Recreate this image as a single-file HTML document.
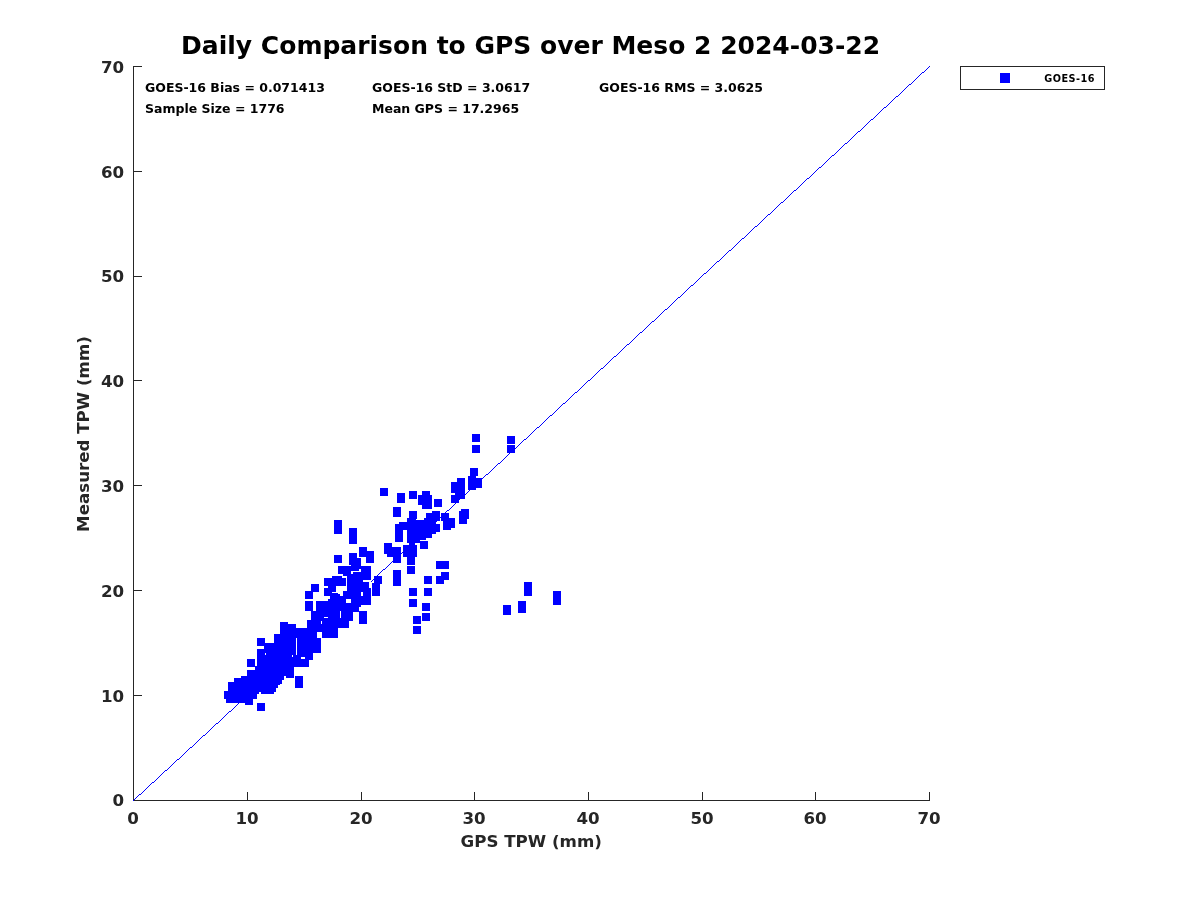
<!DOCTYPE html>
<html><head><meta charset="utf-8"><title>Daily Comparison to GPS</title>
<style>
html,body{margin:0;padding:0;background:#fff;}
body{width:1200px;height:900px;overflow:hidden;position:relative;}
svg{position:absolute;left:0;top:0;display:block;}
text{font-family:"DejaVu Sans","Liberation Sans",sans-serif;font-weight:bold;}
.tk{font-size:16.67px;fill:#262626;}
.st{font-size:12.5px;fill:#000;}
</style></head><body>
<svg width="1200" height="900" viewBox="0 0 1200 900">
<rect width="1200" height="900" fill="#fff"/>
<!--TITLE-->
<text id="title" x="530.6" y="53.7" text-anchor="middle" font-size="25px" fill="#000">Daily Comparison to GPS over Meso 2 2024-03-22</text>
<!--AXES-->
<g stroke="#262626" stroke-width="1" fill="none" shape-rendering="crispEdges">
<path d="M133.5 66V800.5H930"/>
<path d="M133 66.5h9M133 171.5h9M133 276.5h9M133 380.5h9M133 485.5h9M133 590.5h9M133 695.5h9"/>
<path d="M247.5 800v-8M361.5 800v-8M474.5 800v-8M588.5 800v-8M702.5 800v-8M815.5 800v-8M929.5 800v-8"/>
</g>
<!--LINE-->
<path id="diag" fill="#0000ff" shape-rendering="crispEdges" d="M133 800h1v1h-1zm1 -1h1v1h-1zm1 -1h1v1h-1zm1 -1h1v1h-1zm1 -1h1v1h-1zm1 -1h1v1h-1zm1 -1h2v1h-2zm2 -1h1v1h-1zm1 -1h1v1h-1zm1 -1h1v1h-1zm1 -1h1v1h-1zm1 -1h1v1h-1zm1 -1h1v1h-1zm1 -1h1v1h-1zm1 -1h1v1h-1zm1 -1h1v1h-1zm1 -1h1v1h-1zm1 -1h1v1h-1zm1 -1h2v1h-2zm2 -1h1v1h-1zm1 -1h1v1h-1zm1 -1h1v1h-1zm1 -1h1v1h-1zm1 -1h1v1h-1zm1 -1h1v1h-1zm1 -1h1v1h-1zm1 -1h1v1h-1zm1 -1h1v1h-1zm1 -1h1v1h-1zm1 -1h1v1h-1zm1 -1h2v1h-2zm2 -1h1v1h-1zm1 -1h1v1h-1zm1 -1h1v1h-1zm1 -1h1v1h-1zm1 -1h1v1h-1zm1 -1h1v1h-1zm1 -1h1v1h-1zm1 -1h1v1h-1zm1 -1h1v1h-1zm1 -1h1v1h-1zm1 -1h2v1h-2zm2 -1h1v1h-1zm1 -1h1v1h-1zm1 -1h1v1h-1zm1 -1h1v1h-1zm1 -1h1v1h-1zm1 -1h1v1h-1zm1 -1h1v1h-1zm1 -1h1v1h-1zm1 -1h1v1h-1zm1 -1h1v1h-1zm1 -1h1v1h-1zm1 -1h2v1h-2zm2 -1h1v1h-1zm1 -1h1v1h-1zm1 -1h1v1h-1zm1 -1h1v1h-1zm1 -1h1v1h-1zm1 -1h1v1h-1zm1 -1h1v1h-1zm1 -1h1v1h-1zm1 -1h1v1h-1zm1 -1h1v1h-1zm1 -1h1v1h-1zm1 -1h2v1h-2zm2 -1h1v1h-1zm1 -1h1v1h-1zm1 -1h1v1h-1zm1 -1h1v1h-1zm1 -1h1v1h-1zm1 -1h1v1h-1zm1 -1h1v1h-1zm1 -1h1v1h-1zm1 -1h1v1h-1zm1 -1h1v1h-1zm1 -1h1v1h-1zm1 -1h2v1h-2zm2 -1h1v1h-1zm1 -1h1v1h-1zm1 -1h1v1h-1zm1 -1h1v1h-1zm1 -1h1v1h-1zm1 -1h1v1h-1zm1 -1h1v1h-1zm1 -1h1v1h-1zm1 -1h1v1h-1zm1 -1h1v1h-1zm1 -1h1v1h-1zm1 -1h2v1h-2zm2 -1h1v1h-1zm1 -1h1v1h-1zm1 -1h1v1h-1zm1 -1h1v1h-1zm1 -1h1v1h-1zm1 -1h1v1h-1zm1 -1h1v1h-1zm1 -1h1v1h-1zm1 -1h1v1h-1zm1 -1h1v1h-1zm1 -1h1v1h-1zm1 -1h2v1h-2zm2 -1h1v1h-1zm1 -1h1v1h-1zm1 -1h1v1h-1zm1 -1h1v1h-1zm1 -1h1v1h-1zm1 -1h1v1h-1zm1 -1h1v1h-1zm1 -1h1v1h-1zm1 -1h1v1h-1zm1 -1h1v1h-1zm1 -1h2v1h-2zm2 -1h1v1h-1zm1 -1h1v1h-1zm1 -1h1v1h-1zm1 -1h1v1h-1zm1 -1h1v1h-1zm1 -1h1v1h-1zm1 -1h1v1h-1zm1 -1h1v1h-1zm1 -1h1v1h-1zm1 -1h1v1h-1zm1 -1h1v1h-1zm1 -1h2v1h-2zm2 -1h1v1h-1zm1 -1h1v1h-1zm1 -1h1v1h-1zm1 -1h1v1h-1zm1 -1h1v1h-1zm1 -1h1v1h-1zm1 -1h1v1h-1zm1 -1h1v1h-1zm1 -1h1v1h-1zm1 -1h1v1h-1zm1 -1h1v1h-1zm1 -1h2v1h-2zm2 -1h1v1h-1zm1 -1h1v1h-1zm1 -1h1v1h-1zm1 -1h1v1h-1zm1 -1h1v1h-1zm1 -1h1v1h-1zm1 -1h1v1h-1zm1 -1h1v1h-1zm1 -1h1v1h-1zm1 -1h1v1h-1zm1 -1h1v1h-1zm1 -1h2v1h-2zm2 -1h1v1h-1zm1 -1h1v1h-1zm1 -1h1v1h-1zm1 -1h1v1h-1zm1 -1h1v1h-1zm1 -1h1v1h-1zm1 -1h1v1h-1zm1 -1h1v1h-1zm1 -1h1v1h-1zm1 -1h1v1h-1zm1 -1h1v1h-1zm1 -1h2v1h-2zm2 -1h1v1h-1zm1 -1h1v1h-1zm1 -1h1v1h-1zm1 -1h1v1h-1zm1 -1h1v1h-1zm1 -1h1v1h-1zm1 -1h1v1h-1zm1 -1h1v1h-1zm1 -1h1v1h-1zm1 -1h1v1h-1zm1 -1h1v1h-1zm1 -1h2v1h-2zm2 -1h1v1h-1zm1 -1h1v1h-1zm1 -1h1v1h-1zm1 -1h1v1h-1zm1 -1h1v1h-1zm1 -1h1v1h-1zm1 -1h1v1h-1zm1 -1h1v1h-1zm1 -1h1v1h-1zm1 -1h1v1h-1zm1 -1h1v1h-1zm1 -1h2v1h-2zm2 -1h1v1h-1zm1 -1h1v1h-1zm1 -1h1v1h-1zm1 -1h1v1h-1zm1 -1h1v1h-1zm1 -1h1v1h-1zm1 -1h1v1h-1zm1 -1h1v1h-1zm1 -1h1v1h-1zm1 -1h1v1h-1zm1 -1h2v1h-2zm2 -1h1v1h-1zm1 -1h1v1h-1zm1 -1h1v1h-1zm1 -1h1v1h-1zm1 -1h1v1h-1zm1 -1h1v1h-1zm1 -1h1v1h-1zm1 -1h1v1h-1zm1 -1h1v1h-1zm1 -1h1v1h-1zm1 -1h1v1h-1zm1 -1h2v1h-2zm2 -1h1v1h-1zm1 -1h1v1h-1zm1 -1h1v1h-1zm1 -1h1v1h-1zm1 -1h1v1h-1zm1 -1h1v1h-1zm1 -1h1v1h-1zm1 -1h1v1h-1zm1 -1h1v1h-1zm1 -1h1v1h-1zm1 -1h1v1h-1zm1 -1h2v1h-2zm2 -1h1v1h-1zm1 -1h1v1h-1zm1 -1h1v1h-1zm1 -1h1v1h-1zm1 -1h1v1h-1zm1 -1h1v1h-1zm1 -1h1v1h-1zm1 -1h1v1h-1zm1 -1h1v1h-1zm1 -1h1v1h-1zm1 -1h1v1h-1zm1 -1h2v1h-2zm2 -1h1v1h-1zm1 -1h1v1h-1zm1 -1h1v1h-1zm1 -1h1v1h-1zm1 -1h1v1h-1zm1 -1h1v1h-1zm1 -1h1v1h-1zm1 -1h1v1h-1zm1 -1h1v1h-1zm1 -1h1v1h-1zm1 -1h1v1h-1zm1 -1h2v1h-2zm2 -1h1v1h-1zm1 -1h1v1h-1zm1 -1h1v1h-1zm1 -1h1v1h-1zm1 -1h1v1h-1zm1 -1h1v1h-1zm1 -1h1v1h-1zm1 -1h1v1h-1zm1 -1h1v1h-1zm1 -1h1v1h-1zm1 -1h1v1h-1zm1 -1h2v1h-2zm2 -1h1v1h-1zm1 -1h1v1h-1zm1 -1h1v1h-1zm1 -1h1v1h-1zm1 -1h1v1h-1zm1 -1h1v1h-1zm1 -1h1v1h-1zm1 -1h1v1h-1zm1 -1h1v1h-1zm1 -1h1v1h-1zm1 -1h2v1h-2zm2 -1h1v1h-1zm1 -1h1v1h-1zm1 -1h1v1h-1zm1 -1h1v1h-1zm1 -1h1v1h-1zm1 -1h1v1h-1zm1 -1h1v1h-1zm1 -1h1v1h-1zm1 -1h1v1h-1zm1 -1h1v1h-1zm1 -1h1v1h-1zm1 -1h2v1h-2zm2 -1h1v1h-1zm1 -1h1v1h-1zm1 -1h1v1h-1zm1 -1h1v1h-1zm1 -1h1v1h-1zm1 -1h1v1h-1zm1 -1h1v1h-1zm1 -1h1v1h-1zm1 -1h1v1h-1zm1 -1h1v1h-1zm1 -1h1v1h-1zm1 -1h2v1h-2zm2 -1h1v1h-1zm1 -1h1v1h-1zm1 -1h1v1h-1zm1 -1h1v1h-1zm1 -1h1v1h-1zm1 -1h1v1h-1zm1 -1h1v1h-1zm1 -1h1v1h-1zm1 -1h1v1h-1zm1 -1h1v1h-1zm1 -1h1v1h-1zm1 -1h2v1h-2zm2 -1h1v1h-1zm1 -1h1v1h-1zm1 -1h1v1h-1zm1 -1h1v1h-1zm1 -1h1v1h-1zm1 -1h1v1h-1zm1 -1h1v1h-1zm1 -1h1v1h-1zm1 -1h1v1h-1zm1 -1h1v1h-1zm1 -1h1v1h-1zm1 -1h2v1h-2zm2 -1h1v1h-1zm1 -1h1v1h-1zm1 -1h1v1h-1zm1 -1h1v1h-1zm1 -1h1v1h-1zm1 -1h1v1h-1zm1 -1h1v1h-1zm1 -1h1v1h-1zm1 -1h1v1h-1zm1 -1h1v1h-1zm1 -1h1v1h-1zm1 -1h2v1h-2zm2 -1h1v1h-1zm1 -1h1v1h-1zm1 -1h1v1h-1zm1 -1h1v1h-1zm1 -1h1v1h-1zm1 -1h1v1h-1zm1 -1h1v1h-1zm1 -1h1v1h-1zm1 -1h1v1h-1zm1 -1h1v1h-1zm1 -1h2v1h-2zm2 -1h1v1h-1zm1 -1h1v1h-1zm1 -1h1v1h-1zm1 -1h1v1h-1zm1 -1h1v1h-1zm1 -1h1v1h-1zm1 -1h1v1h-1zm1 -1h1v1h-1zm1 -1h1v1h-1zm1 -1h1v1h-1zm1 -1h1v1h-1zm1 -1h2v1h-2zm2 -1h1v1h-1zm1 -1h1v1h-1zm1 -1h1v1h-1zm1 -1h1v1h-1zm1 -1h1v1h-1zm1 -1h1v1h-1zm1 -1h1v1h-1zm1 -1h1v1h-1zm1 -1h1v1h-1zm1 -1h1v1h-1zm1 -1h1v1h-1zm1 -1h2v1h-2zm2 -1h1v1h-1zm1 -1h1v1h-1zm1 -1h1v1h-1zm1 -1h1v1h-1zm1 -1h1v1h-1zm1 -1h1v1h-1zm1 -1h1v1h-1zm1 -1h1v1h-1zm1 -1h1v1h-1zm1 -1h1v1h-1zm1 -1h1v1h-1zm1 -1h2v1h-2zm2 -1h1v1h-1zm1 -1h1v1h-1zm1 -1h1v1h-1zm1 -1h1v1h-1zm1 -1h1v1h-1zm1 -1h1v1h-1zm1 -1h1v1h-1zm1 -1h1v1h-1zm1 -1h1v1h-1zm1 -1h1v1h-1zm1 -1h1v1h-1zm1 -1h2v1h-2zm2 -1h1v1h-1zm1 -1h1v1h-1zm1 -1h1v1h-1zm1 -1h1v1h-1zm1 -1h1v1h-1zm1 -1h1v1h-1zm1 -1h1v1h-1zm1 -1h1v1h-1zm1 -1h1v1h-1zm1 -1h1v1h-1zm1 -1h1v1h-1zm1 -1h2v1h-2zm2 -1h1v1h-1zm1 -1h1v1h-1zm1 -1h1v1h-1zm1 -1h1v1h-1zm1 -1h1v1h-1zm1 -1h1v1h-1zm1 -1h1v1h-1zm1 -1h1v1h-1zm1 -1h1v1h-1zm1 -1h1v1h-1zm1 -1h2v1h-2zm2 -1h1v1h-1zm1 -1h1v1h-1zm1 -1h1v1h-1zm1 -1h1v1h-1zm1 -1h1v1h-1zm1 -1h1v1h-1zm1 -1h1v1h-1zm1 -1h1v1h-1zm1 -1h1v1h-1zm1 -1h1v1h-1zm1 -1h1v1h-1zm1 -1h2v1h-2zm2 -1h1v1h-1zm1 -1h1v1h-1zm1 -1h1v1h-1zm1 -1h1v1h-1zm1 -1h1v1h-1zm1 -1h1v1h-1zm1 -1h1v1h-1zm1 -1h1v1h-1zm1 -1h1v1h-1zm1 -1h1v1h-1zm1 -1h1v1h-1zm1 -1h2v1h-2zm2 -1h1v1h-1zm1 -1h1v1h-1zm1 -1h1v1h-1zm1 -1h1v1h-1zm1 -1h1v1h-1zm1 -1h1v1h-1zm1 -1h1v1h-1zm1 -1h1v1h-1zm1 -1h1v1h-1zm1 -1h1v1h-1zm1 -1h1v1h-1zm1 -1h2v1h-2zm2 -1h1v1h-1zm1 -1h1v1h-1zm1 -1h1v1h-1zm1 -1h1v1h-1zm1 -1h1v1h-1zm1 -1h1v1h-1zm1 -1h1v1h-1zm1 -1h1v1h-1zm1 -1h1v1h-1zm1 -1h1v1h-1zm1 -1h1v1h-1zm1 -1h2v1h-2zm2 -1h1v1h-1zm1 -1h1v1h-1zm1 -1h1v1h-1zm1 -1h1v1h-1zm1 -1h1v1h-1zm1 -1h1v1h-1zm1 -1h1v1h-1zm1 -1h1v1h-1zm1 -1h1v1h-1zm1 -1h1v1h-1zm1 -1h1v1h-1zm1 -1h2v1h-2zm2 -1h1v1h-1zm1 -1h1v1h-1zm1 -1h1v1h-1zm1 -1h1v1h-1zm1 -1h1v1h-1zm1 -1h1v1h-1zm1 -1h1v1h-1zm1 -1h1v1h-1zm1 -1h1v1h-1zm1 -1h1v1h-1zm1 -1h2v1h-2zm2 -1h1v1h-1zm1 -1h1v1h-1zm1 -1h1v1h-1zm1 -1h1v1h-1zm1 -1h1v1h-1zm1 -1h1v1h-1zm1 -1h1v1h-1zm1 -1h1v1h-1zm1 -1h1v1h-1zm1 -1h1v1h-1zm1 -1h1v1h-1zm1 -1h2v1h-2zm2 -1h1v1h-1zm1 -1h1v1h-1zm1 -1h1v1h-1zm1 -1h1v1h-1zm1 -1h1v1h-1zm1 -1h1v1h-1zm1 -1h1v1h-1zm1 -1h1v1h-1zm1 -1h1v1h-1zm1 -1h1v1h-1zm1 -1h1v1h-1zm1 -1h2v1h-2zm2 -1h1v1h-1zm1 -1h1v1h-1zm1 -1h1v1h-1zm1 -1h1v1h-1zm1 -1h1v1h-1zm1 -1h1v1h-1zm1 -1h1v1h-1zm1 -1h1v1h-1zm1 -1h1v1h-1zm1 -1h1v1h-1zm1 -1h1v1h-1zm1 -1h2v1h-2zm2 -1h1v1h-1zm1 -1h1v1h-1zm1 -1h1v1h-1zm1 -1h1v1h-1zm1 -1h1v1h-1zm1 -1h1v1h-1zm1 -1h1v1h-1zm1 -1h1v1h-1zm1 -1h1v1h-1zm1 -1h1v1h-1zm1 -1h1v1h-1zm1 -1h2v1h-2zm2 -1h1v1h-1zm1 -1h1v1h-1zm1 -1h1v1h-1zm1 -1h1v1h-1zm1 -1h1v1h-1zm1 -1h1v1h-1zm1 -1h1v1h-1zm1 -1h1v1h-1zm1 -1h1v1h-1zm1 -1h1v1h-1zm1 -1h1v1h-1zm1 -1h2v1h-2zm2 -1h1v1h-1zm1 -1h1v1h-1zm1 -1h1v1h-1zm1 -1h1v1h-1zm1 -1h1v1h-1zm1 -1h1v1h-1zm1 -1h1v1h-1zm1 -1h1v1h-1zm1 -1h1v1h-1zm1 -1h1v1h-1zm1 -1h2v1h-2zm2 -1h1v1h-1zm1 -1h1v1h-1zm1 -1h1v1h-1zm1 -1h1v1h-1zm1 -1h1v1h-1zm1 -1h1v1h-1zm1 -1h1v1h-1zm1 -1h1v1h-1zm1 -1h1v1h-1zm1 -1h1v1h-1zm1 -1h1v1h-1zm1 -1h2v1h-2zm2 -1h1v1h-1zm1 -1h1v1h-1zm1 -1h1v1h-1zm1 -1h1v1h-1zm1 -1h1v1h-1zm1 -1h1v1h-1zm1 -1h1v1h-1zm1 -1h1v1h-1zm1 -1h1v1h-1zm1 -1h1v1h-1zm1 -1h1v1h-1zm1 -1h2v1h-2zm2 -1h1v1h-1zm1 -1h1v1h-1zm1 -1h1v1h-1zm1 -1h1v1h-1zm1 -1h1v1h-1zm1 -1h1v1h-1zm1 -1h1v1h-1zm1 -1h1v1h-1zm1 -1h1v1h-1zm1 -1h1v1h-1zm1 -1h1v1h-1zm1 -1h2v1h-2zm2 -1h1v1h-1zm1 -1h1v1h-1zm1 -1h1v1h-1zm1 -1h1v1h-1zm1 -1h1v1h-1zm1 -1h1v1h-1zm1 -1h1v1h-1zm1 -1h1v1h-1zm1 -1h1v1h-1zm1 -1h1v1h-1zm1 -1h1v1h-1zm1 -1h2v1h-2zm2 -1h1v1h-1zm1 -1h1v1h-1zm1 -1h1v1h-1zm1 -1h1v1h-1zm1 -1h1v1h-1zm1 -1h1v1h-1zm1 -1h1v1h-1zm1 -1h1v1h-1zm1 -1h1v1h-1zm1 -1h1v1h-1zm1 -1h1v1h-1zm1 -1h2v1h-2zm2 -1h1v1h-1zm1 -1h1v1h-1zm1 -1h1v1h-1zm1 -1h1v1h-1zm1 -1h1v1h-1zm1 -1h1v1h-1zm1 -1h1v1h-1zm1 -1h1v1h-1zm1 -1h1v1h-1zm1 -1h1v1h-1zm1 -1h1v1h-1zm1 -1h2v1h-2zm2 -1h1v1h-1zm1 -1h1v1h-1zm1 -1h1v1h-1zm1 -1h1v1h-1zm1 -1h1v1h-1zm1 -1h1v1h-1zm1 -1h1v1h-1zm1 -1h1v1h-1zm1 -1h1v1h-1zm1 -1h1v1h-1zm1 -1h2v1h-2zm2 -1h1v1h-1zm1 -1h1v1h-1zm1 -1h1v1h-1zm1 -1h1v1h-1zm1 -1h1v1h-1zm1 -1h1v1h-1zm1 -1h1v1h-1zm1 -1h1v1h-1zm1 -1h1v1h-1zm1 -1h1v1h-1zm1 -1h1v1h-1zm1 -1h2v1h-2zm2 -1h1v1h-1zm1 -1h1v1h-1zm1 -1h1v1h-1zm1 -1h1v1h-1zm1 -1h1v1h-1zm1 -1h1v1h-1zm1 -1h1v1h-1zm1 -1h1v1h-1zm1 -1h1v1h-1zm1 -1h1v1h-1zm1 -1h1v1h-1zm1 -1h2v1h-2zm2 -1h1v1h-1zm1 -1h1v1h-1zm1 -1h1v1h-1zm1 -1h1v1h-1zm1 -1h1v1h-1zm1 -1h1v1h-1zm1 -1h1v1h-1zm1 -1h1v1h-1zm1 -1h1v1h-1zm1 -1h1v1h-1zm1 -1h1v1h-1zm1 -1h2v1h-2zm2 -1h1v1h-1zm1 -1h1v1h-1zm1 -1h1v1h-1zm1 -1h1v1h-1zm1 -1h1v1h-1zm1 -1h1v1h-1zm1 -1h1v1h-1zm1 -1h1v1h-1zm1 -1h1v1h-1zm1 -1h1v1h-1zm1 -1h1v1h-1zm1 -1h2v1h-2zm2 -1h1v1h-1zm1 -1h1v1h-1zm1 -1h1v1h-1zm1 -1h1v1h-1zm1 -1h1v1h-1zm1 -1h1v1h-1zm1 -1h1v1h-1zm1 -1h1v1h-1zm1 -1h1v1h-1zm1 -1h1v1h-1zm1 -1h1v1h-1zm1 -1h2v1h-2zm2 -1h1v1h-1zm1 -1h1v1h-1zm1 -1h1v1h-1zm1 -1h1v1h-1zm1 -1h1v1h-1zm1 -1h1v1h-1zm1 -1h1v1h-1zm1 -1h1v1h-1zm1 -1h1v1h-1zm1 -1h1v1h-1zm1 -1h2v1h-2zm2 -1h1v1h-1zm1 -1h1v1h-1zm1 -1h1v1h-1zm1 -1h1v1h-1zm1 -1h1v1h-1zm1 -1h1v1h-1zm1 -1h1v1h-1zm1 -1h1v1h-1zm1 -1h1v1h-1zm1 -1h1v1h-1zm1 -1h1v1h-1zm1 -1h2v1h-2zm2 -1h1v1h-1zm1 -1h1v1h-1zm1 -1h1v1h-1zm1 -1h1v1h-1zm1 -1h1v1h-1zm1 -1h1v1h-1zm1 -1h1v1h-1zm1 -1h1v1h-1zm1 -1h1v1h-1zm1 -1h1v1h-1zm1 -1h1v1h-1zm1 -1h2v1h-2zm2 -1h1v1h-1zm1 -1h1v1h-1zm1 -1h1v1h-1zm1 -1h1v1h-1zm1 -1h1v1h-1zm1 -1h1v1h-1z"/>
<!--YTICKS-->
<g class="tk" text-anchor="end">
<text x="124.2" y="72.6">70</text><text x="124.2" y="177.6">60</text><text x="124.2" y="281.6">50</text><text x="124.2" y="386.6">40</text><text x="124.2" y="491.6">30</text><text x="124.2" y="596.6">20</text><text x="124.2" y="701.6">10</text><text x="124.2" y="805.6">0</text>
</g>
<!--XTICKS-->
<g class="tk" text-anchor="middle">
<text x="133" y="823.7">0</text><text x="247" y="823.7">10</text><text x="361" y="823.7">20</text><text x="474" y="823.7">30</text><text x="588" y="823.7">40</text><text x="702" y="823.7">50</text><text x="815" y="823.7">60</text><text x="929" y="823.7">70</text>
</g>
<!--LABELS-->
<text x="531.2" y="846.6" text-anchor="middle" font-size="16.67px" fill="#262626">GPS TPW (mm)</text>
<text transform="translate(89.3 434) rotate(-90)" text-anchor="middle" font-size="16.67px" fill="#262626">Measured TPW (mm)</text>
<!--STATS-->
<g class="st">
<text x="145" y="91.8">GOES-16 Bias = 0.071413</text>
<text x="145" y="112.8">Sample Size = 1776</text>
<text x="372" y="91.8">GOES-16 StD = 3.0617</text>
<text x="372" y="112.8">Mean GPS = 17.2965</text>
<text x="599" y="91.8">GOES-16 RMS = 3.0625</text>
</g>
<!--LEGEND-->
<rect x="960.5" y="66.5" width="144" height="23" fill="#fff" stroke="#262626" stroke-width="1" shape-rendering="crispEdges"/>
<rect x="1000" y="73" width="10" height="10" fill="#0000ff" shape-rendering="crispEdges"/>
<text x="1044.3" y="81.6" font-size="9.72px" fill="#000" letter-spacing="0.45">GOES-16</text>
<!--POINTS-->
<g id="pts" fill="#0000ff" shape-rendering="crispEdges">
<path fill="#0000ff" d="M224 691h2v8h-2zM226 691h2v11.7h-2zM228 682h6.2v20.7h-6.2zM234.2 678.2h6.8v24.5h-6.8zM241 676h2v26.7h-2zM243 676h2v27h-2zM245 676h2.2v28.8h-2.2zM247.2 670h5.5v34.8h-5.5zM252.8 670h2.2v28.5h-2.2zM255 666h2v32.5h-2zM257 649h1.8v45h-1.8zM258.8 649h2.2v43h-2.2zM261 649h3v44.5h-3zM264 643h10v50.5h-10zM274 634h2v57.8h-2zM276 634h2v54h-2zM278 634h2v50.5h-2zM280 630h2v54h-2zM282 630h2v50h-2zM284 630h2v46h-2zM286 630h8v47.5h-8zM294 630h5v37h-5zM299 630h10v36.5h-10zM309 630h4v29h-4zM313 630h7.5v22.5h-7.5zM320.5 630h17.5v4.5h-17.5zM330 630h8v7.5h-8zM247 659h8v8h-8zM257 638h8v8h-8zM257 703h8v8h-8zM295 676h8v12h-8zM270 643h4v17h-4zM274 634h6v26h-6zM280 622h8v38h-8zM288 624h8v36h-8zM296 628h17v32h-17zM313 628h8v25h-8zM307 620h4v40h-4zM311 584h8v8h-8zM305 591h8v8h-8zM305 601h8v10h-8zM324 578h22v8h-22zM332 576h10v2h-10zM328 586h8v2h-8zM324 588h12v8h-12zM338 566h33v8h-33zM351 565h10v1h-10zM343 574h4v2h-4zM347 574h24v22h-24zM343 596h28v9h-28zM343 591h4v5h-4zM372 583h8v13h-8zM374 576h8v8h-8zM311 611h5v27h-5zM316 601h6v31h-6zM322 601h6v37h-6zM328 599h2v39h-2zM330 593h8v45h-8zM338 594h2v34h-2zM340 596h9v32h-9zM349 597h4v24h-4zM353 597h6v15h-6zM359 605h2v2h-2zM359 611h8v13h-8zM340 520h2v13h-2zM349 528h8v16h-8zM359 547h8v10h-8zM366 551h8v12h-8zM349 553h8v12h-8zM353 558h8v10h-8zM340 555h2v7h-2zM374 576h8v8h-8zM372 583h8v7h-8zM384 543h8v11h-8zM387 547h14v10h-14zM393 547h8v16h-8zM393 507h8v10h-8zM397 500h8v3h-8zM393 570h8v16h-8zM407 566h8v8h-8zM403 545h14v12h-14zM407 557h8v8h-8zM409 542h6v3h-6zM420 541h8v8h-8zM395 524h4v18h-4zM399 522h4v20h-4zM403 522h5v8h-5zM407 518h9v25h-9zM409 511h8v8h-8zM415 520h5v23h-5zM420 520h6v20h-6zM424 518h8v20h-8zM426 513h14v7h-14zM432 511h8v10h-8zM432 520h4v14h-4zM434 524h6v8h-6zM441 513h8v8h-8zM443 518h12v10h-12zM443 528h8v2h-8zM459 511h1v13h-1zM418 500h14v4h-14zM422 504h10v5h-10zM434 500h8v7h-8zM451 500h8v3h-8zM436 561h13v8h-13zM441 572h8v8h-8zM436 576h8v8h-8zM424 576h8v8h-8zM409 588h8v2h-8zM424 588h8v2h-8zM472 434h8v8h-8zM472 445h8v8h-8zM507 436h8v8h-8zM507 445h8v8h-8zM470 468h8v8h-8zM468 476h8v14h-8zM474 478h8v10h-8zM457 478h8v21h-8zM451 482h8v11h-8zM451 495h8v8h-8zM455 490h4v5h-4zM400 493h5v10h-5zM409 491h8v8h-8zM418 495h8v10h-8zM422 491h8v8h-8zM424 495h8v14h-8zM434 499h8v8h-8zM461 509h8v3h-8zM451 500h8v3h-8zM461 509h8v10h-8zM459 511h8v13h-8zM450 518h5v10h-5zM503 605h8v10h-8zM518 601h8v12h-8zM524 582h8v14h-8zM553 591h8v14h-8zM380 488h8v8h-8zM397 493h8v10h-8zM409 491h8v8h-8zM418 495h8v10h-8zM422 491h8v8h-8zM424 495h8v14h-8zM434 499h8v8h-8zM451 482h9v11h-9zM457 478h5v8h-5zM451 495.5h8v7.5h-8zM393 507h8v10h-8zM334 520h8v14h-8zM349 528h8v16h-8zM380 490h8v6h-8zM334 555h8v8h-8zM349 553h8v12h-8zM353 559h8v8h-8zM324 578h18v2h-18zM332 576h10v4h-10zM374 576h8v4h-8zM409 588h8v8h-8zM424 588h8v8h-8zM409 599h8v8h-8zM422 603h8v8h-8zM422 613h8v8h-8zM413 616h8v8h-8zM413 626h8v8h-8z"/>
<path fill="#ffffff" d="M317 632h5v6h-5zM296 638h1v17h-1zM301 657h4v2h-4zM265 653h1v2h-1zM292 655h1v2h-1zM332 591.8h6v1h-6zM353 571h8v1h-8zM351 571h2v3h-2zM359 569h2v2h-2zM363 580h8v2h-8zM369 582h2.5v6h-2.5zM361 592.3h2v4h-2zM359 593.6h4v0.8h-4zM346 599h5v4h-5zM340 611h1v7.3h-1zM324 617h4v1h-4zM321 621h1v3.3h-1z"/>
</g>
</svg>
</body></html>
